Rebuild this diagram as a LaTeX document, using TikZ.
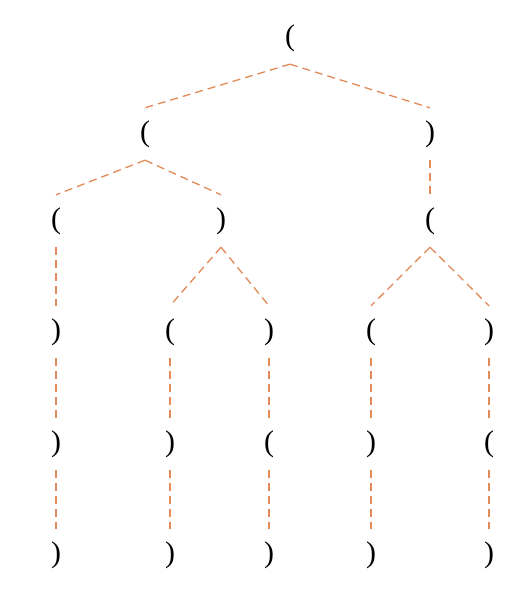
\documentclass[tikz,border=0pt]{standalone}
\usepackage{fontspec}
\setmainfont{Liberation Serif}
\definecolor{edgeorange}{RGB}{226,138,88}
\begin{document}
\begin{tikzpicture}[x=1bp,y=-1bp,
  par/.style={inner sep=0pt, minimum height=52bp, minimum width=12bp, font=\fontsize{30}{33}\selectfont},
  link/.style={draw=edgeorange, line width=1.3bp, dash pattern=on 8bp off 5bp}]
\useasboundingbox (0,0) rectangle (522,597);
% level 0
\node[par] (r) at (290,38) {(};
% level 1
\node[par] (a) at (145,134) {(};
\node[par] (b) at (430,134) {)};
% level 2
\node[par] (a1) at (56,221) {(};
\node[par] (a2) at (221,221) {)};
\node[par] (b1) at (430,221) {(};
% level 3
\node[par] (c1) at (56,332) {)};
\node[par] (c2) at (170,332) {(};
\node[par] (c3) at (269,332) {)};
\node[par] (c4) at (371,332) {(};
\node[par] (c5) at (489,332) {)};
% level 4
\node[par] (d1) at (56,444) {)};
\node[par] (d2) at (170,444) {)};
\node[par] (d3) at (269,444) {(};
\node[par] (d4) at (371,444) {)};
\node[par] (d5) at (489,444) {(};
% level 5
\node[par] (e1) at (56,555) {)};
\node[par] (e2) at (170,555) {)};
\node[par] (e3) at (269,555) {)};
\node[par] (e4) at (371,555) {)};
\node[par] (e5) at (489,555) {)};
% edges
\draw[link] (r.south) -- (a.north);
\draw[link] (r.south) -- (b.north);
\draw[link] (a.south) -- (a1.north);
\draw[link] (a.south) -- (a2.north);
\draw[link] (b.south) -- (b1.north);
\draw[link] (a1.south) -- (c1.north);
\draw[link] (a2.south) -- (c2.north);
\draw[link] (a2.south) -- (c3.north);
\draw[link] (b1.south) -- (c4.north);
\draw[link] (b1.south) -- (c5.north);
\draw[link] (c1.south) -- (d1.north);
\draw[link] (c2.south) -- (d2.north);
\draw[link] (c3.south) -- (d3.north);
\draw[link] (c4.south) -- (d4.north);
\draw[link] (c5.south) -- (d5.north);
\draw[link] (d1.south) -- (e1.north);
\draw[link] (d2.south) -- (e2.north);
\draw[link] (d3.south) -- (e3.north);
\draw[link] (d4.south) -- (e4.north);
\draw[link] (d5.south) -- (e5.north);
\end{tikzpicture}
\end{document}
